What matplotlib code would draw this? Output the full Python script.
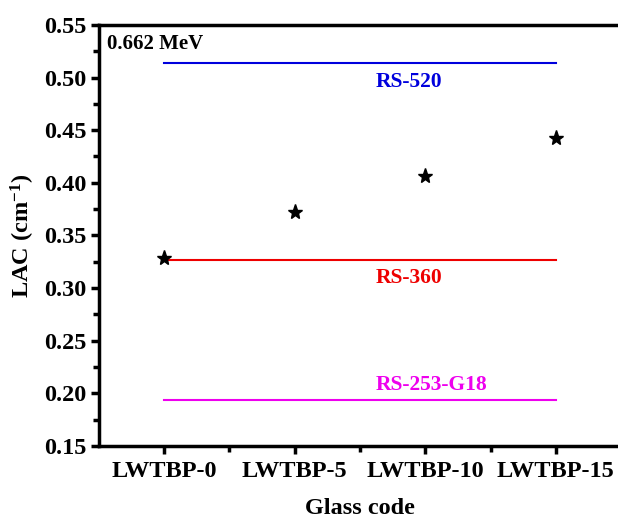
import numpy as np
import matplotlib.pyplot as plt
from matplotlib.ticker import MultipleLocator, FixedLocator

# Data
glass_codes = ['LWTBP-0', 'LWTBP-5', 'LWTBP-10', 'LWTBP-15']
lac_values = [0.329, 0.372, 0.406, 0.443]

ref_names = ['RS-520', 'RS-360', 'RS-253-G18']
ref_values = [0.514, 0.327, 0.194]
ref_colors = ['#0000dd', '#ee0000', '#ee00ee']
ref_label_y = [0.496, 0.310, 0.208]

plt.rcParams['font.family'] = ['Liberation Serif', 'DejaVu Serif']
plt.rcParams['font.weight'] = 'bold'
plt.rcParams['mathtext.fontset'] = 'custom'
plt.rcParams['mathtext.rm'] = 'Liberation Serif:bold'
plt.rcParams['mathtext.it'] = 'Liberation Serif:bold'
plt.rcParams['mathtext.bf'] = 'Liberation Serif:bold'

fig = plt.figure(figsize=(6.18, 5.18), dpi=100)
ax = fig.add_axes([0.160, 0.139, 0.845, 0.813])

x = np.arange(len(glass_codes))

# Reference shielding glass lines
for name, val, col, ly in zip(ref_names, ref_values, ref_colors, ref_label_y):
    ax.plot([x[0], x[-1]], [val, val], color=col, linewidth=1.5)
    ax.text(1.62, ly, name, color=col, fontsize=15.5, fontweight='bold',
            ha='left', va='center')

ax.plot(x, lac_values, linestyle='none', marker='*', color='black',
        markersize=11, zorder=5)

ax.text(0.015, 0.955, '0.662 MeV', transform=ax.transAxes, fontsize=15,
        fontweight='bold', ha='left', va='center')

ax.set_xlim(-0.5, 3.5)
ax.set_ylim(0.15, 0.55)
ax.set_xticks(x)
ax.set_xticklabels(glass_codes)
ax.xaxis.set_minor_locator(FixedLocator([0.5, 1.5, 2.5]))
ax.yaxis.set_major_locator(MultipleLocator(0.05))
ax.yaxis.set_minor_locator(MultipleLocator(0.025))
ax.yaxis.set_major_formatter(plt.FormatStrFormatter('%.2f'))

ax.tick_params(axis='both', which='major', direction='out', length=6,
               width=2.5, labelsize=17.5, pad=3)
ax.tick_params(axis='both', which='minor', direction='out', length=4,
               width=2.5)
ax.tick_params(axis='x', which='major', pad=5)
ax.tick_params(top=False, right=False, which='both')

for side in ['left', 'bottom', 'top', 'right']:
    ax.spines[side].set_linewidth(2.5)

ax.set_xlabel('Glass code', fontsize=17.5, fontweight='bold', labelpad=11)
ax.set_ylabel('LAC (cm$^{-1}$)', fontsize=17.5, fontweight='bold', labelpad=5)

fig.savefig('out.png', dpi=100)
